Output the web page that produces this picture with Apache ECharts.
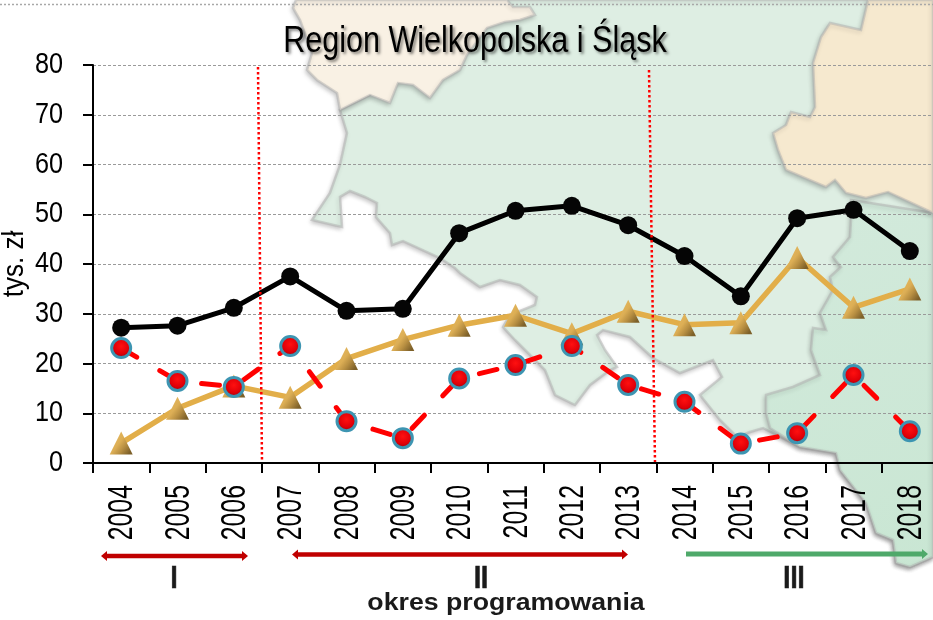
<!DOCTYPE html>
<html><head><meta charset="utf-8">
<style>html,body{margin:0;padding:0;background:#fff}#c{width:933px;height:620px}</style>
<script src="https://cdn.jsdelivr.net/npm/echarts@6/dist/echarts.min.js"></script>
</head><body><div id="c"></div>
<script>
const years = ['2004','2005','2006','2007','2008','2009','2010','2011','2012','2013','2014','2015','2016','2017','2018'];
const blackValues = [27.2,27.6,31.2,37.5,30.6,31,46.2,50.7,51.7,47.8,41.6,33.5,49.2,50.9,42.6];
const goldValues = [4,11,15.5,13.2,21,24.8,27.7,29.7,26,30.5,27.8,28.2,41.3,31.3,35];
const redValues = [23.1,16.5,15.3,23.5,8.4,5,17,19.7,23.5,15.7,12.3,3.9,6,17.7,6.4];
const titleText = 'Region Wielkopolska i Śląsk';
const yName = 'tys. zł';
const periodLabels = ['I','II','III'];
const footer = 'okres programowania';

const SANS = '"Liberation Sans",Arial,sans-serif';

const mapShadow = {stroke:'rgba(175,175,175,0.5)', lineWidth:2.5, shadowBlur:4, shadowOffsetX:-1, shadowOffsetY:2, shadowColor:'rgba(0,0,0,0.22)'};
const greenMap = [[340,110],[347,133],[340,165],[330,193],[312,220],[342,227],[340,197],[350,191],[365,197],[377,203],[376,217],[390,233],[392,245],[403,241],[440,258],[455,268],[460,273],[480,287],[500,280],[520,285],[537,297],[535,305],[510,315],[503,327],[515,340],[545,370],[555,395],[575,405],[590,385],[610,370],[617,367],[605,350],[597,335],[603,330],[630,337],[653,358],[680,373],[713,360],[722,377],[700,395],[720,420],[737,437],[750,432],[763,428],[800,447],[836,453],[840,470],[866,503],[876,533],[893,540],[896,563],[910,567],[933,557],[933,0],[507,0],[440,60]];
const darkMap = [[851,200],[933,213],[933,557],[910,567],[896,563],[893,540],[876,533],[866,503],[840,470],[836,453],[800,447],[770,428],[766,413],[766,395],[793,387],[820,375],[811,350],[813,328],[826,330],[820,313],[833,290],[830,277],[841,267],[833,257],[850,237],[851,220]];
const beigeNW = [[296,0],[293,8],[300,20],[312,53],[307,70],[317,80],[337,93],[340,110],[370,95],[390,103],[398,83],[413,85],[430,98],[443,80],[460,70],[467,55],[487,28],[505,22],[520,20],[535,15],[530,7],[513,7],[507,0]];
const beigeNE = [[868,0],[861,30],[830,23],[821,37],[813,63],[815,107],[810,117],[791,112],[786,125],[773,133],[778,150],[786,170],[826,187],[835,180],[846,193],[866,198],[888,192],[933,213],[933,0]];

function poly(points, fill, z, shadow){
  return {type:'polygon', z:z, silent:true, shape:{points:points}, style:Object.assign({fill:fill}, shadow?mapShadow:{})};
}
function line(x1,y1,x2,y2,stroke,w,dash,z){
  return {type:'line', z:z, silent:true, shape:{x1,y1,x2,y2}, style:{stroke:stroke,lineWidth:w,lineDash:dash||null}};
}
function head(x,y,dir,color){
  return {type:'polygon', z:6, silent:true, shape:{points:[[x,y-5],[x+dir*6,y],[x,y+5]]}, style:{fill:color}};
}
function label(text,x,y,size,weight,sx,thick){
  return {type:'text', z:6, silent:true, x:x, y:y, scaleX:sx, style:{text:text, fontFamily:SANS, fontSize:size, fontWeight:weight, fill:'#1a1a1a', stroke:thick?'#1a1a1a':null, lineWidth:thick||0, align:'center', verticalAlign:'middle'}};
}

const chart = echarts.init(document.getElementById('c'), null, {renderer:'canvas'});
chart.setOption({
  animation:false,
  backgroundColor:'#fff',
  title:{text:titleText, left:473, top:18, textAlign:'center',
    textStyle:{fontFamily:SANS, fontSize:37, fontWeight:'normal', color:'#000',
      textShadowColor:'rgba(0,0,0,0.5)', textShadowBlur:3, textShadowOffsetX:2, textShadowOffsetY:2}},
  grid:{left:93, top:65, width:845, height:398, containLabel:false, outerBoundsMode:'none'},
  xAxis:{type:'category', data:years, boundaryGap:true,
    axisLine:{lineStyle:{color:'#000',width:2}},
    axisTick:{show:true, inside:false, length:10, alignWithLabel:false, interval:0, lineStyle:{color:'#000',width:2}},
    axisLabel:{rotate:90, interval:0, margin:22, color:'#000', fontFamily:SANS, fontSize:35}},
  yAxis:{type:'value', min:0, max:80, interval:10, name:yName, nameLocation:'middle', nameGap:63, nameMoveOverlap:false, nameRotate:90,
    nameTextStyle:{color:'#000', fontFamily:SANS, fontSize:30},
    axisLine:{show:true, lineStyle:{color:'#000',width:2}},
    axisTick:{show:true, length:10, lineStyle:{color:'#000',width:2}},
    axisLabel:{color:'#000', fontFamily:SANS, fontSize:29, margin:30},
    splitLine:{show:true, lineStyle:{color:'#9a9a9a', width:1, type:[3,2]}}},
  graphic:{elements:[
    line(0,4.5,933,4.5,'#a8a8a8',1.5,[2,2],-4),
    poly(greenMap,'#deeee3',-10,true),
    poly(darkMap,new echarts.graphic.LinearGradient(0,0,1,1,[{offset:0,color:'#d3eadc'},{offset:1,color:'#c9e6d3'}]),-9,true),
    poly(beigeNW,'#f9f1e4',-8,true),
    poly(beigeNE,'#f6e9cf',-8,true),
    line(258,67,262,462,'#ff0000',2.5,[2.5,2.5],5),
    line(649,70,655,462,'#ff0000',2.5,[2.5,2.5],5),
    line(107,556,242,556,'#c00000',4.5,null,6), head(107,556,-1,'#c00000'), head(242,556,1,'#c00000'),
    line(298,554.5,622,554.5,'#c00000',4.5,null,6), head(298,554.5,-1,'#c00000'), head(622,554.5,1,'#c00000'),
    line(686,554,922,554,'#4fa96a',5,null,6), head(922,554,1,'#4fa96a'),
    label(periodLabels[0],174,579,32,'bold',0.8,0.7),
    label(periodLabels[1],481,579,32,'bold',0.8,0.7),
    label(periodLabels[2],794,579,32,'bold',0.8,0.7),
    label(footer,506,604,23,'bold',1.16)
  ]},
  series:[
    {type:'line', name:'gold', data:goldValues, z:3, symbol:'triangle', symbolSize:[23,23], showSymbol:true,
      lineStyle:{color:'#e2ae49',width:5.5},
      itemStyle:{opacity:1,color:new echarts.graphic.LinearGradient(0,0,1,0.75,[{offset:0,color:'#e9bd63'},{offset:0.5,color:'#dcae55'},{offset:0.72,color:'#b88f42'},{offset:1,color:'#7d6029'}])}},
    {type:'line', name:'black', data:blackValues, z:4, symbol:'circle', symbolSize:18, showSymbol:true,
      lineStyle:{color:'#000',width:5},
      itemStyle:{color:'#050505',opacity:1}},
    {type:'line', name:'red', data:redValues, z:5, symbol:'circle', symbolSize:19, showSymbol:true,
      lineStyle:{color:'#ff0000',width:5,type:[18,26.7],cap:'round'},
      itemStyle:{opacity:1,color:new echarts.graphic.RadialGradient(0.5,0.42,0.62,[{offset:0,color:'#ff1010'},{offset:0.55,color:'#e00008'},{offset:1,color:'#7e0010'}]),borderColor:'#3d95b2',borderWidth:3}}
  ]
});

// The reference's type is condensed: narrow the library's own text elements in place.
function narrow(el){
  if (el.type === 'text' && el.style && typeof el.style.text === 'string') {
    const t = el.style.text;
    let sx = 0;
    if (years.includes(t)) { sx = 0.71; el.x += 1.5; }
    else if (t === titleText) { sx = 0.825; el.x -= 3; }
    else if (t === yName) sx = 0.87;
    else if (/^[0-9]+$/.test(t)) sx = 0.87;
    if (sx) { el.scaleX = sx; el.markRedraw(); }
  }
  if (el.childrenRef) el.childrenRef().forEach(narrow);
}
chart.getZr().storage.getRoots().forEach(narrow);
</script></body></html>
